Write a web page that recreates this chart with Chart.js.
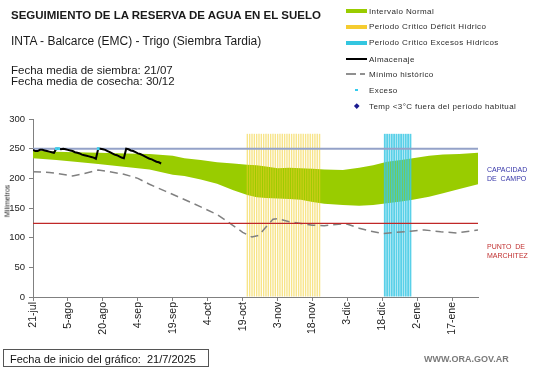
<!DOCTYPE html>
<html><head><meta charset="utf-8">
<script src="https://cdn.jsdelivr.net/npm/chart.js@4"></script>
<style>
body{margin:0;background:#fff;}
#wrap{position:relative;width:541px;height:368px;overflow:hidden;font-family:"Liberation Sans",Arial,sans-serif;background:#fff;}
canvas{position:absolute;left:0;top:0;}
.t{position:absolute;white-space:pre;color:#1a1a1a;line-height:1;}
.lg{position:absolute;left:346px;height:12px;display:flex;align-items:center;font-size:8px;letter-spacing:0.4px;color:#2a2a2a;white-space:pre;}
.sw{width:21px;margin-right:2px;flex:none;}
.mk{width:21px;margin-right:2px;flex:none;display:flex;justify-content:center;align-items:center;}
.rl{position:absolute;font-size:7px;line-height:8.6px;white-space:pre;}
</style></head><body>
<div id="wrap">
<canvas id="c" width="541" height="368"></canvas>
<div class="t" style="left:11px;top:10.3px;font-size:11.5px;font-weight:bold;">SEGUIMIENTO DE LA RESERVA DE AGUA EN EL SUELO</div>
<div class="t" style="left:11px;top:34.8px;font-size:12px;">INTA - Balcarce (EMC) - Trigo (Siembra Tardia)</div>
<div class="t" style="left:11px;top:65.3px;font-size:11.5px;">Fecha media de siembra: 21/07</div>
<div class="t" style="left:11px;top:76.3px;font-size:11.5px;">Fecha media de cosecha: 30/12</div>

<div class="lg" style="top:5px;"><div class="sw" style="height:4px;background:#99cc00;"></div>Intervalo Normal</div>
<div class="lg" style="top:20.7px;"><div class="sw" style="height:4px;background:#f5cc30;"></div>Periodo Crítico Déficit Hídrico</div>
<div class="lg" style="top:36.7px;"><div class="sw" style="height:4px;background:#33c6e0;"></div>Periodo Crítico Excesos Hídricos</div>
<div class="lg" style="top:53.3px;"><div class="sw" style="height:2px;background:#000;"></div>Almacenaje</div>
<div class="lg" style="top:68px;"><div class="sw" style="height:2px;background:linear-gradient(90deg,#909090 0 10px,transparent 10px 14px,#909090 14px 19px,transparent 19px);"></div>Mínimo histórico</div>
<div class="lg" style="top:84px;"><div class="mk"><div style="width:2.5px;height:2.5px;background:#33ccee;"></div></div>Exceso</div>
<div class="lg" style="top:100px;"><div class="mk"><div style="width:3.5px;height:3.5px;background:#1a1a90;transform:rotate(45deg);"></div></div>Temp &lt;3°C fuera del período habitual</div>

<div class="rl" style="left:487px;top:166.3px;color:#3535a8;">CAPACIDAD
DE  CAMPO</div>
<div class="rl" style="left:487px;top:243px;color:#c03030;">PUNTO  DE
MARCHITEZ</div>

<div style="position:absolute;left:7px;top:201px;width:0;height:0;">
  <div style="position:absolute;left:0;top:0;transform:translate(-50%,-50%) rotate(-90deg);white-space:pre;font-size:7px;color:#222;line-height:1;">Milímetros</div>
</div>

<div style="position:absolute;left:3px;top:349px;width:206px;height:18px;border:1px solid #555;box-sizing:border-box;"></div>
<div class="t" style="left:10px;top:353.5px;font-size:11px;color:#111;">Fecha de inicio del gráfico:  21/7/2025</div>
<div class="t" style="left:424px;top:355px;font-size:9px;font-weight:bold;color:#7a7a7a;">WWW.ORA.GOV.AR</div>
</div>
<script>
// ---- Data (days counted from 21-jul) ----
const tickLabels = ['21-jul','5-ago','20-ago','4-sep','19-sep','4-oct','19-oct','3-nov','18-nov','3-dic','18-dic','2-ene','17-ene'];
const tickStepDays = 15;
const lastDay = 191;

const bandDays  = [0,10,18,28,40,50,60,65,72,79,86,92,96,100,105,110,115,120,125,133,140,146,152,158,163,170,176,183,191];
const bandUpper = [247,245,244,243,242,241,238,234,231,227,225,223,222,220,217,218,217,216,215,214,218,222,228,231,234,238,240,241,243];
const bandLower = [234,231,228,224,219,215,206,204,198,191,180,172,168,167,166,165,164,160,157,155,154,155,158,161,164,169,175,182,190];

const minHistDays   = [0,7,17,22,28,33,39,45,50,57,64,72,79,85,90,94,97,100,103,105,110,115,120,125,134,140,145,150,156,162,168,175,182,191];
const minHistValues = [211,210,204,208,214,211,207,200,190,178,166,152,139,123,109,101,104,118,131,132,127,124,121,120,124,116,111,107,109,111,113,110,108,113];

const almacenajeDays   = [0,1,2,3,4,5,6,7,8,9,10,11,12,13,14,15,16,17,18,19,20,21,22,23,24,25,26,27,28,29,30,31,32,33,34,35,36,37,38,39,40,41,42,43,44,45,46,47,48,49,50,51,52,53,54,55];
const almacenajeValues = [248,246,246,248,248,247,246,245,244,243,250,250,249,250,249,248,247,246,244,243,242,240,239,238,237,236,235,233,250,250,249,248,246,244,242,240,239,237,235,234,250,249,247,246,244,242,241,239,237,235,233,232,230,228,227,225];

const excesoDays   = [10,11,28];
const excesoValues = [250,250,250];

const deficitDays = [92,93,94,95,96,97,98,99,100,101,102,103,104,105,106,107,108,109,110,111,112,113,114,115,116,117,118,119,120,121,122,123];
const excesoPeriodDays = [151,152,153,154,155,156,157,158,159,160,161,162];
const periodHeight = 275;

const capacidadCampo = 250;
const puntoMarchitez = 124;

// ---- Build chart tables ----
const zip = (xs, ys) => xs.map((x, i) => ({x, y: ys[i]}));
const flat = (xs, v) => xs.map(x => ({x, y: v}));

const FONT = "'Liberation Sans', Arial, sans-serif";

new Chart(document.getElementById('c'), {
  type: 'line',
  data: {
    datasets: [
      { label:'lower', data: zip(bandDays, bandLower), borderWidth:0, borderColor:'rgba(0,0,0,0)', pointRadius:0, fill:false, order:10 },
      { label:'Intervalo Normal', data: zip(bandDays, bandUpper), borderWidth:0, borderColor:'rgba(0,0,0,0)', pointRadius:0, fill:'-1', backgroundColor:'#99cc00', order:9 },
      { type:'bar', label:'Periodo Crítico Déficit Hídrico', data: flat(deficitDays, periodHeight), grouped:false, barPercentage:0.6, categoryPercentage:1, backgroundColor:'rgba(240,205,40,0.55)', borderWidth:0, order:8 },
      { type:'bar', label:'Periodo Crítico Excesos Hídricos', data: flat(excesoPeriodDays, periodHeight), grouped:false, barPercentage:0.8, categoryPercentage:1, backgroundColor:'rgba(60,200,228,0.85)', borderWidth:0, order:7 },
      { label:'Mínimo histórico', data: zip(minHistDays, minHistValues), borderColor:'#808080', borderWidth:1.5, borderDash:[8,5], pointRadius:0, fill:false, order:6 },
      { label:'marchitez', data: flat([0,lastDay], puntoMarchitez), borderColor:'#c02828', borderWidth:1.2, pointRadius:0, fill:false, order:5 },
      { label:'capacidad', data: flat([0,lastDay], capacidadCampo), borderColor:'#94a2c8', borderWidth:2, pointRadius:0, fill:false, order:4 },
      { label:'Almacenaje', data: zip(almacenajeDays, almacenajeValues), borderColor:'#000', borderWidth:2, pointRadius:0, fill:false, order:2 },
      { label:'Exceso', data: zip(excesoDays, excesoValues), showLine:false, pointStyle:'rect', pointRadius:2, backgroundColor:'#3fd0f0', borderWidth:0, order:1 }
    ]
  },
  options: {
    responsive:false,
    animation:false,
    events:[],
    layout:{ padding:{ top:119, right:63, left:0, bottom:0 } },
    plugins:{ legend:{display:false}, tooltip:{enabled:false} },
    scales:{
      x:{
        type:'linear', min:0, max:lastDay, offset:false,
        grid:{ drawOnChartArea:false, drawTicks:true, tickLength:4, color:'#808080', offset:false },
        border:{ color:'#808080', width:1 },
        ticks:{ stepSize:tickStepDays, autoSkip:false, maxRotation:90, minRotation:90, padding:1,
          font:{ family:FONT, size:10.5 }, color:'#222',
          callback:(v) => tickLabels[v / tickStepDays] ?? '' },
        afterBuildTicks:(s) => { s.ticks = s.ticks.filter(t => t.value % tickStepDays === 0); },
        afterFit:(s) => { s.height = 71; }
      },
      y:{
        min:0, max:300,
        grid:{ drawOnChartArea:false, drawTicks:true, tickLength:4, color:'#808080' },
        border:{ color:'#808080', width:1 },
        ticks:{ stepSize:50, padding:4, font:{ family:FONT, size:9.5 }, color:'#222' },
        afterFit:(s) => { s.width = 33; }
      }
    }
  }
});
</script>
</body></html>
